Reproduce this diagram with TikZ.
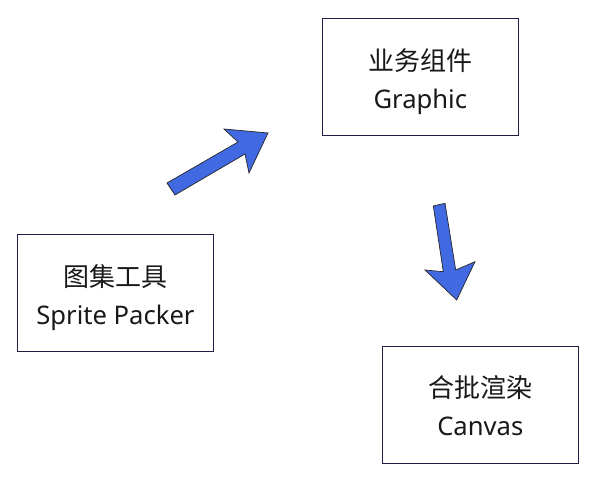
\documentclass[tikz,border=0pt]{standalone}
\usepackage{fontspec}
\setmainfont{Noto Sans}
\newfontfamily\cjk{Noto Sans CJK SC}
\definecolor{boxline}{RGB}{30,30,70}
\definecolor{arrowfill}{RGB}{65,105,225}
\definecolor{txt}{RGB}{25,25,25}
\newcommand{\toprule}{\rule{0pt}{32pt}}
\newcommand{\botrule}{\rule[-7pt]{0pt}{7pt}}
\begin{document}
\begin{tikzpicture}[x=1pt,y=-1pt,
  box/.style={draw=boxline,line width=0.9pt,fill=white,minimum width=196pt,minimum height=117pt,
    align=center,text=txt,font=\fontsize{25.6}{38}\selectfont,inner sep=0pt},
  blockarrow/.style={fill=arrowfill,draw=black!85,line width=0.7pt,line join=miter}]
\useasboundingbox (0,0) rectangle (598,478);
\node[box] (sprite) at (115.5,293.3) {\toprule{\cjk\fontsize{26}{38}\selectfont 图集工具}\\Sprite Packer\botrule};
\node[box] (graphic) at (420.3,77) {\toprule{\cjk\fontsize{26}{38}\selectfont 业务组件}\\Graphic\botrule};
\node[box] (canvas) at (480.3,404.5) {\toprule{\cjk\fontsize{26}{38}\selectfont 合批渲染}\\Canvas\botrule};
% block arrows
\draw[blockarrow] (167,183) -- (238,142) -- (224,129) -- (268,133) -- (249,173) -- (245,154) -- (175,195) -- cycle;
\draw[blockarrow] (433.3,206) -- (443.3,271.7) -- (425,270) -- (456.7,300) -- (475,261.7) -- (455.7,270) -- (445,203.3) -- cycle;
\end{tikzpicture}
\end{document}
